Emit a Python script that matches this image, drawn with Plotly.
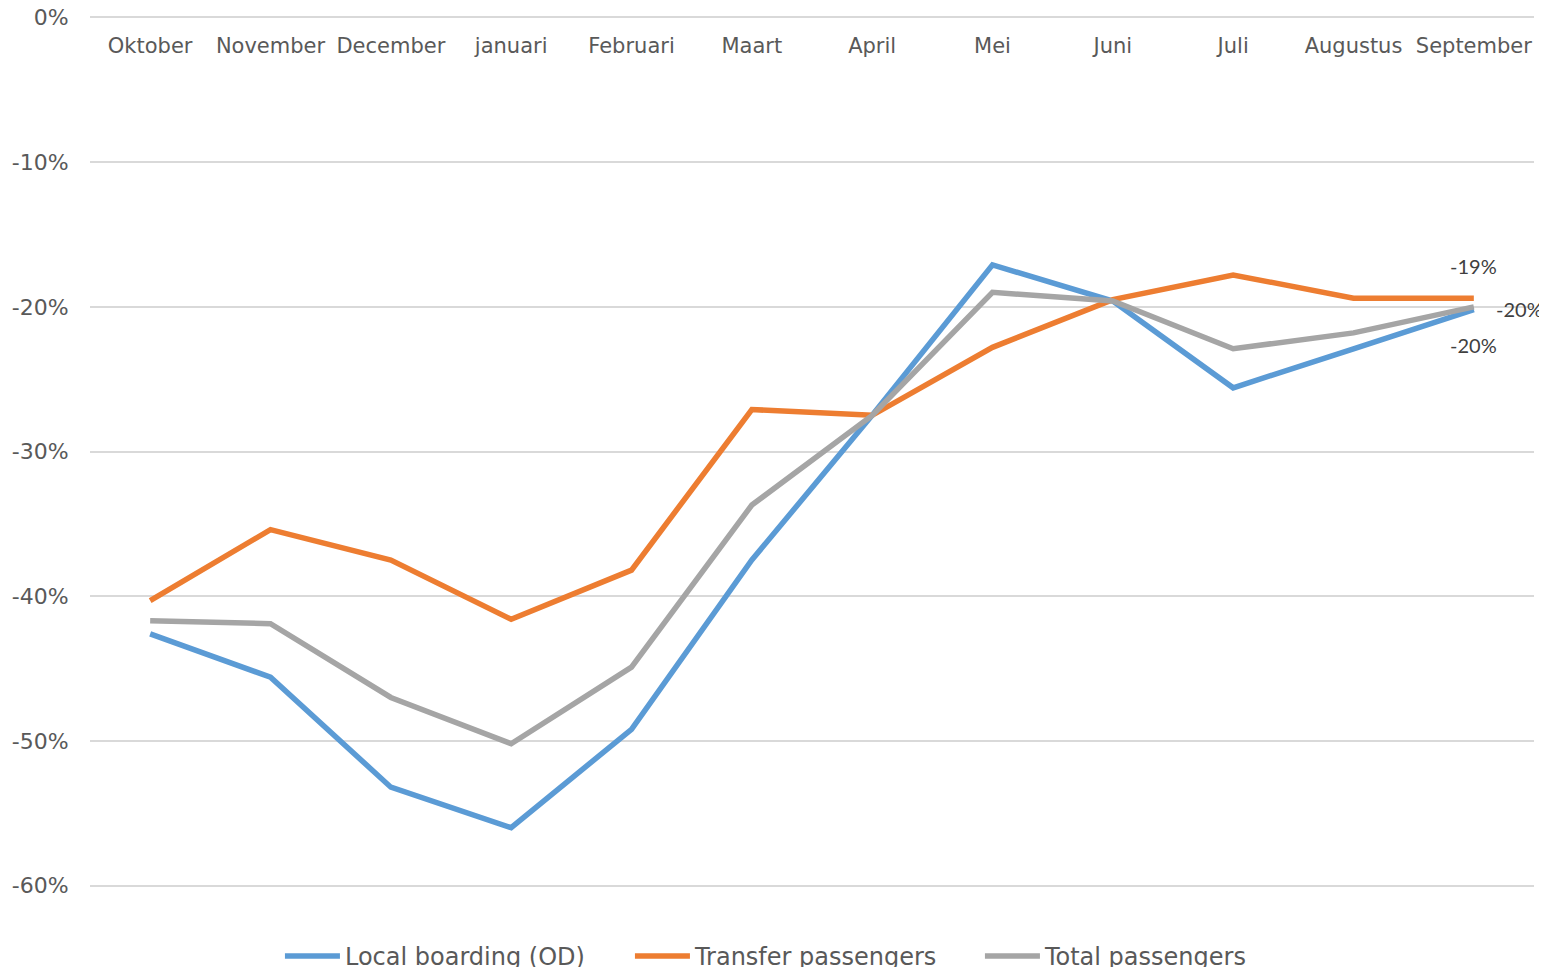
import plotly.graph_objects as go

months = ["Oktober", "November", "December", "januari", "Februari", "Maart",
          "April", "Mei", "Juni", "Juli", "Augustus", "September"]
local_od = [-42.6, -45.6, -53.2, -56.0, -49.2, -37.5, -27.5, -17.1, -19.6, -25.6, -22.9, -20.2]
transfer = [-40.3, -35.4, -37.5, -41.6, -38.2, -27.1, -27.5, -22.8, -19.5, -17.8, -19.4, -19.4]
total = [-41.7, -41.9, -47.0, -50.2, -44.9, -33.7, -27.5, -19.0, -19.6, -22.9, -21.8, -20.0]

y_ticks = [0, -10, -20, -30, -40, -50, -60]
y_tick_text = ["0%", "-10%", "-20%", "-30%", "-40%", "-50%", "-60%"]

series = [
    ("Local boarding (OD)", local_od, "#5B9BD5"),
    ("Transfer passengers", transfer, "#ED7D31"),
    ("Total passengers", total, "#A5A5A5"),
]

fig = go.Figure()
for name, vals, col in series:
    fig.add_trace(go.Scatter(x=months, y=vals, name=name, mode="lines",
                             line=dict(color=col, width=5.5)))

label_font = dict(family="Lato, Open Sans, sans-serif", size=20, color="#404040")
fig.add_annotation(x=months[-1], y=transfer[-1], text=f"{round(transfer[-1])}%",
                   showarrow=False, yshift=32, font=label_font)
fig.add_annotation(x=months[-1], y=total[-1], text=f"{round(total[-1])}%",
                   showarrow=False, xanchor="left", xshift=20, yshift=-2, font=label_font)
fig.add_annotation(x=months[-1], y=local_od[-1], text=f"{round(local_od[-1])}%",
                   showarrow=False, yshift=-35, font=label_font)

fig.update_layout(
    width=1539, height=959,
    margin=dict(l=82, r=13, t=8, b=80, autoexpand=False),
    plot_bgcolor="white", paper_bgcolor="white",
    font=dict(family="DejaVu Sans, Verdana, sans-serif", size=21, color="#595959"),
    showlegend=True,
    legend=dict(orientation="h", xref="container", yref="container",
                x=0.1767, xanchor="left", y=0.011, yanchor="middle",
                font=dict(size=24, color="#595959"), itemwidth=55,
                entrywidth=280, tracegroupgap=0),
)
fig.update_xaxes(
    type="category", anchor="free", position=1, side="bottom",
    range=[-0.5, 11.5], automargin=False,
    showgrid=False, showline=False, zeroline=False,
    ticks="", ticklabelstandoff=15,
    tickfont=dict(size=21, color="#595959"),
)
fig.update_yaxes(
    range=[-60.1, 0.1], tickvals=y_ticks, ticktext=y_tick_text, automargin=False,
    showgrid=True, gridcolor="#D9D9D9", gridwidth=1.5, zeroline=False,
    ticks="outside", ticklen=16, tickcolor="rgba(0,0,0,0)",
    ticklabeloverflow="allow",
    tickfont=dict(size=22, color="#595959"), showline=False,
)

fig.write_html("out.html")
